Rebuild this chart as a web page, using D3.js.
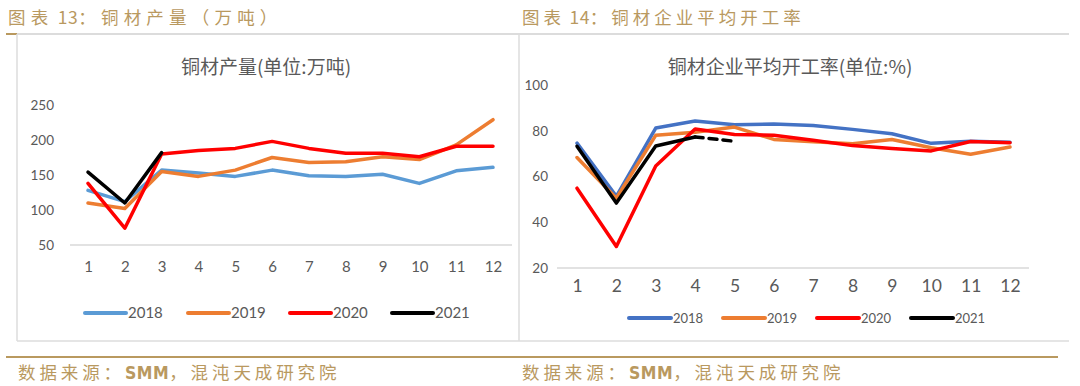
<!DOCTYPE html>
<html><head><meta charset="utf-8">
<script src="https://cdn.jsdelivr.net/npm/d3@7"></script>
<style>
html,body{margin:0;padding:0;background:#fff;}
svg{display:block;}
</style></head>
<body>
<svg id="c" width="1080" height="386"></svg>
<script>
const months = [1,2,3,4,5,6,7,8,9,10,11,12];
const years = ["2018","2019","2020","2021"];
// Chart 13: copper output (10k tons)
const out2018 = [128,112,157,153,148,157,149,148,151,138,156,161];
const out2019 = [110,102,155,148,157,175,168,169,176,172,193,229];
const out2020 = [138,74,180,185,188,198,188,181,181,176,191,191];
const out2021 = [154,110,182];
const outTicks = [50,100,150,200,250];
// Chart 14: operating rate (%)
const rate2018 = [74.6,51.3,81.2,84.3,82.6,82.9,82.3,80.6,78.7,74.5,75.4,75.0];
const rate2019 = [68.3,50.5,78.0,79.3,81.6,76.2,75.2,74.3,76.2,72.6,69.7,72.9];
const rate2020 = [54.9,29.4,64.6,80.8,78.4,78.0,75.8,73.5,72.2,71.2,75.3,74.8];
const rate2021 = [73.2,48.4,73.3,77.3];
const rate2021Est = [77.3,75.4]; // months 4-5, dashed
const rateTicks = [20,40,60,80,100];

const svg = d3.select("#c");
const gold = "#b9995f";
const textGray = "#595959";
const cnFont = "'Noto Sans CJK SC','Noto Sans',sans-serif";
const numFont = "Lato,'Noto Sans',sans-serif";

// Frame lines
svg.append("line").attr("x1",6).attr("x2",1069).attr("y1",34).attr("y2",34).attr("stroke","#dcdcdc").attr("stroke-width",2);
svg.append("line").attr("x1",6).attr("x2",17).attr("y1",34).attr("y2",34).attr("stroke",gold).attr("stroke-width",2);
svg.append("line").attr("x1",17).attr("x2",17).attr("y1",34).attr("y2",341).attr("stroke","#dcdcdc").attr("stroke-width",1.5);
svg.append("line").attr("x1",519).attr("x2",519).attr("y1",34).attr("y2",341).attr("stroke","#dcdcdc").attr("stroke-width",1.5);
svg.append("line").attr("x1",17).attr("x2",1069).attr("y1",341).attr("y2",341).attr("stroke","#dcdcdc").attr("stroke-width",1.5);
svg.append("line").attr("x1",6).attr("x2",1058).attr("y1",357).attr("y2",357).attr("stroke",gold).attr("stroke-width",2);

// Headings: CJK runs spaced, Latin runs compact
function heading(x,y,t,ls){
  const txt = svg.append("text").attr("x",x).attr("y",y).attr("font-family",cnFont).attr("font-size",17.5).attr("fill",gold);
  const runs = t.match(/[\x20-\x7e]+|[^\x20-\x7e]+/g);
  runs.forEach(r=>{
    const latin = /^[\x20-\x7e]+$/.test(r);
    const ts = txt.append("tspan").text(r);
    if(latin){ ts.attr("letter-spacing",0.5).attr("dx",0); if(/[A-Z]/.test(r)) ts.attr("font-weight",700).attr("font-family","'Liberation Sans Narrow','DejaVu Sans Condensed',sans-serif"); }
    else ts.attr("letter-spacing",ls);
  });
}
heading(8,24,"图表 13：铜材产量（万吨）",5.2);
heading(522,24,"图表 14：铜材企业平均开工率",4.0);
heading(18,379,"数据来源：SMM，混沌天成研究院",3.9);
heading(522,379,"数据来源：SMM，混沌天成研究院",3.9);

function drawChart(cfg){
  const g = svg.append("g");
  const x = d3.scaleLinear().domain([1,12]).range(cfg.xr);
  const y = d3.scaleLinear().domain(cfg.yd).range(cfg.yr);
  g.append("text").attr("x",cfg.titleX).attr("y",74).attr("text-anchor","middle")
    .attr("font-family",cnFont).attr("font-size",19).attr("fill",textGray).text(cfg.title);
  // baseline
  g.append("line").attr("x1",cfg.gridX[0]).attr("x2",cfg.gridX[1]).attr("y1",y(cfg.yd[0])).attr("y2",y(cfg.yd[0]))
    .attr("stroke","#d9d9d9").attr("stroke-width",1.5);
  // y axis
  const ya = g.append("g").attr("transform",`translate(${cfg.yAxisX},0)`)
    .call(d3.axisLeft(y).tickValues(cfg.ticks).tickSize(0).tickPadding(0));
  ya.select(".domain").remove();
  ya.selectAll("text").attr("font-family",numFont).attr("font-size",cfg.yFont).attr("fill",textGray);
  // x axis
  const xa = g.append("g").attr("transform",`translate(0,${cfg.xAxisY})`)
    .call(d3.axisBottom(x).tickValues(months).tickFormat(d3.format("d")).tickSize(0).tickPadding(0));
  xa.select(".domain").remove();
  xa.selectAll("text").attr("font-family",numFont).attr("font-size",cfg.xFont).attr("fill",textGray);
  const line = d3.line().x((d,i)=>x(d[0])).y(d=>y(d[1])).curve(d3.curveLinear);
  cfg.series.forEach(s=>{
    const pts = s.values.map((v,i)=>[s.start+i, v]);
    g.append("path").attr("d",line(pts)).attr("fill","none").attr("stroke",s.color)
      .attr("stroke-width",3.5).attr("stroke-linejoin","round").attr("stroke-linecap","round")
      .attr("stroke-dasharray",s.dash||null);
  });
  // legend
  cfg.legend.forEach((l,i)=>{
    g.append("line").attr("x1",l.x).attr("x2",l.x+cfg.legLen).attr("y1",cfg.legY).attr("y2",cfg.legY)
      .attr("stroke",l.color).attr("stroke-width",4).attr("stroke-linecap","round");
    g.append("text").attr("x",l.x+cfg.legLen+2).attr("y",cfg.legY).attr("dy","0.36em")
      .attr("font-family",numFont).attr("font-size",cfg.legFont).attr("fill",textGray).text(years[i]);
  });
}

drawChart({
  xr:[88,493], yd:[50,250], yr:[245,105], ticks:outTicks,
  title:"铜材产量(单位:万吨)", titleX:266,
  gridX:[70,512], yAxisX:54, yFont:13.5, xAxisY:261, xFont:15,
  series:[
    {values:out2018,start:1,color:"#5b9bd5"},
    {values:out2019,start:1,color:"#ed7d31"},
    {values:out2020,start:1,color:"#ff0000"},
    {values:out2021,start:1,color:"#000000"}
  ],
  legY:313, legLen:41, legFont:15,
  legend:[{x:85,color:"#5b9bd5"},{x:188,color:"#ed7d31"},{x:290,color:"#ff0000"},{x:392,color:"#000000"}]
});

drawChart({
  xr:[577,1010], yd:[20,100], yr:[268,85], ticks:rateTicks,
  title:"铜材企业平均开工率(单位:%)", titleX:790,
  gridX:[557,1029], yAxisX:548, yFont:13.5, xAxisY:280, xFont:17.5,
  series:[
    {values:rate2018,start:1,color:"#4472c4"},
    {values:rate2019,start:1,color:"#ed7d31"},
    {values:rate2020,start:1,color:"#ff0000"},
    {values:rate2021,start:1,color:"#000000"},
    {values:rate2021Est,start:4,color:"#000000",dash:"8,6"}
  ],
  legY:318, legLen:42, legFont:13,
  legend:[{x:629,color:"#4472c4"},{x:723,color:"#ed7d31"},{x:817,color:"#ff0000"},{x:911,color:"#000000"}]
});
</script>
</body></html>
